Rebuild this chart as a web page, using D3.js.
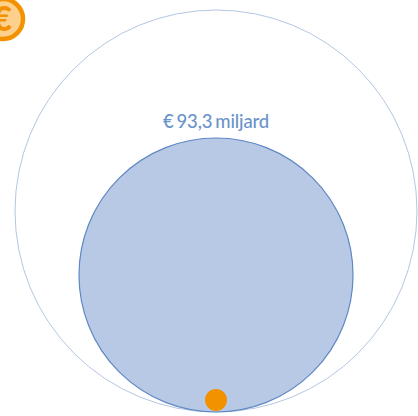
<!DOCTYPE html>
<html>
<head>
<meta charset="utf-8">
<script src="https://cdn.jsdelivr.net/npm/d3@7"></script>
<style>
  html, body { margin: 0; padding: 0; background: #fff; }
  svg { display: block; }
</style>
</head>
<body>
<div id="chart"></div>
<script>
// Values in miljard euro, read from the circle areas (only 93,3 is printed)
const names = ['totaal', 'deel', 'klein'];
const values = [200.8, 93.3, 0.6];
const labels = ['', '€ 93,3 miljard', ''];
const fills = ['none', '#b8c9e6', '#f39200'];
const strokes = ['#b4c6e2', '#5f88c4', 'none'];
const strokeWidths = [1, 1.2, 0];

const svg_width = 418;
const svg_height = 416;
const bottomY = 412;
const centerX = 216;

const svg = d3.select('#chart').append('svg')
    .attr('width', svg_width).attr('height', svg_height);

// area scale, all circles sit on the same bottom line
const rScale = d3.scaleSqrt().domain([0, 200.8]).range([0, 201]);

const circleData = names.map((d, i) => ({
    name: d, value: values[i], label: labels[i], fill: fills[i], stroke: strokes[i], strokeWidth: strokeWidths[i]
}));

svg.selectAll('.bubble')
    .data(circleData)
    .enter()
    .append('circle')
    .attr('class', 'bubble')
    .attr('cx', centerX)
    .attr('cy', (d, i) => bottomY - rScale(d.value) - (i === 2 ? 1 : 0))
    .attr('r', d => rScale(d.value))
    .attr('fill', d => d.fill)
    .attr('stroke', d => d.stroke)
    .attr('stroke-width', d => d.strokeWidth);

// label above the middle circle
svg.selectAll('.bubble-label')
    .data(circleData.filter(d => d.label))
    .enter()
    .append('text')
    .attr('class', 'bubble-label')
    .attr('x', centerX)
    .attr('y', d => bottomY - 2 * rScale(d.value) - 10)
    .attr('text-anchor', 'middle')
    .style('font-family', 'Lato, sans-serif')
    .style('font-size', '18.5px')
    .style('font-weight', 500)
    .style('letter-spacing', '-0.15px')
    .style('word-spacing', '-1.5px')
    .style('fill', '#6b93cb')
    .text(d => d.label);

// euro coin, cut off by the top left corner
const coin = svg.append('g').attr('transform', 'translate(3, 19)');
coin.append('circle')
    .attr('r', 20)
    .attr('fill', '#fdd08c')
    .attr('stroke', '#f39200')
    .attr('stroke-width', 4.5);
coin.append('text')
    .attr('x', -1)
    .attr('y', 12)
    .attr('text-anchor', 'middle')
    .style('font-family', 'Lato, sans-serif')
    .style('font-weight', 900)
    .style('font-size', '34px')
    .style('fill', '#f39200')
    .text('€');
</script>
</body>
</html>
